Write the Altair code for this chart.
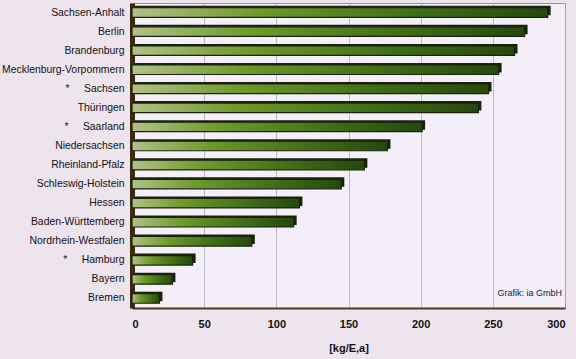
import altair as alt
import pandas as pd

states = [
    "Sachsen-Anhalt", "Berlin", "Brandenburg", "Mecklenburg-Vorpommern",
    "Sachsen", "Thüringen", "Saarland", "Niedersachsen", "Rheinland-Pfalz",
    "Schleswig-Holstein", "Hessen", "Baden-Württemberg", "Nordrhein-Westfalen",
    "Hamburg", "Bayern", "Bremen",
]
values = [288, 272, 265, 254, 247, 240, 201, 177, 161, 145, 116, 112, 83, 42, 28, 19]
starred = ["Sachsen", "Saarland", "Hamburg"]
x_ticks = [0, 50, 100, 150, 200, 250, 300]

labels = [("*\u00a0\u00a0\u00a0\u00a0\u00a0" + s) if s in starred else s for s in states]
df = pd.DataFrame({"label": labels, "value": values})

y_enc = alt.Y(
    "label:N", sort=labels, title=None,
    scale=alt.Scale(paddingInner=0.5, paddingOuter=0.25),
    axis=alt.Axis(labelFont="Liberation Sans", labelFontSize=10.4, labelColor="#111111",
                  labelPadding=8, ticks=False, domainColor="#3a2a10", domainWidth=5,
                  labelLimit=200),
)
x_enc = alt.X(
    "value:Q", title="[kg/E,a]",
    scale=alt.Scale(domain=[0, 300], nice=False),
    axis=alt.Axis(values=x_ticks, labelFont="Liberation Sans", labelFontSize=11,
                  labelFontWeight="bold", labelColor="#111111", labelPadding=10,
                  tickSize=0, domainColor="#4a3a20", domainWidth=2,
                  gridColor="#b0a8b8", gridWidth=0.8,
                  titleFont="Liberation Sans", titleFontSize=11, titleFontWeight="bold",
                  titleColor="#111111", titlePadding=13),
)

grad = alt.Gradient(
    gradient="linear",
    stops=[
        alt.GradientStop(color="#b3c088", offset=0),
        alt.GradientStop(color="#6f9a2c", offset=0.3),
        alt.GradientStop(color="#3e6c16", offset=0.7),
        alt.GradientStop(color="#26480e", offset=1),
    ],
    x1=0, x2=1, y1=0, y2=0,
)

shadow = alt.Chart(df).mark_bar(
    color="#18220c", xOffset=3, x2Offset=3, yOffset=-2, y2Offset=-2
).encode(x=x_enc, y=y_enc)

bars = alt.Chart(df).mark_bar(
    color=grad, stroke="#18240c", strokeWidth=1.2
).encode(x=x_enc, y=y_enc)

credit = alt.Chart(pd.DataFrame({"t": ["Grafik: ia GmbH"]})).mark_text(
    align="right", baseline="middle", font="Liberation Sans", fontSize=9,
    color="#222222", dx=-3, dy=-5,
).encode(x=alt.datum(300), y=alt.datum(labels[-1]), text="t:N")

chart = alt.layer(shadow, bars, credit).properties(
    width=433, height=305,
    padding={"left": 132, "top": 3, "right": 11, "bottom": 51},
    autosize="none",
    background="#eee4ee",
).configure_view(
    fill="#f4eef8", stroke="#9a90a0", strokeWidth=1
)

chart.save("out.html", embed_options={"renderer": "svg", "actions": False})
